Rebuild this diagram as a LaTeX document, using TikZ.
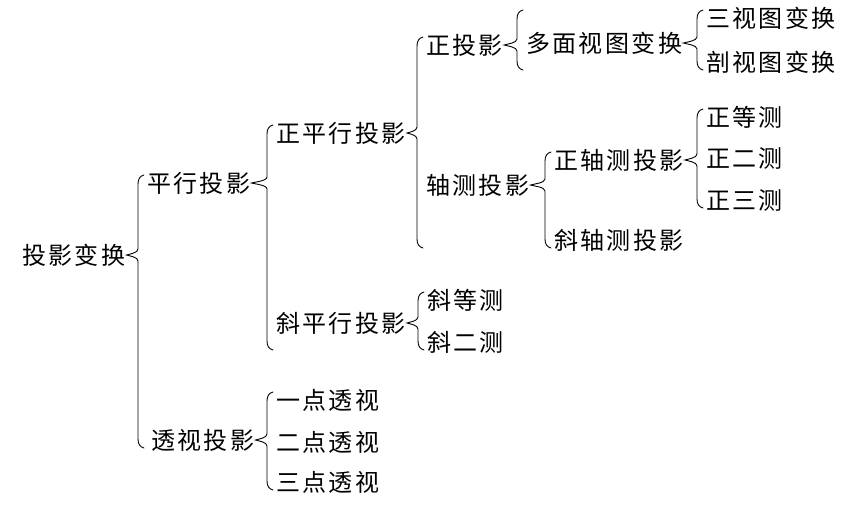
\documentclass[tikz,border=0pt]{standalone}
\usepackage{fontspec}
\usepackage{tikz}
\usetikzlibrary{calc}
\newfontfamily\cjk[LetterSpace=10]{Noto Sans CJK SC}

\begin{document}
\begin{tikzpicture}[x=1pt,y=1pt,
  lbl/.style={font=\cjk\fontsize{24}{28}\selectfont,inner sep=0pt,anchor=west},
  fork/.style={line width=.9pt,line cap=round}]
\useasboundingbox (0,0) rectangle (856,-515);
\foreach \nd/\txt/\x/\y in {root/投影变换/22/255, par/平行投影/147/183, persp/透视投影/151/440,
  orth/正平行投影/276/133, obl/斜平行投影/276/323, zheng/正投影/426/45, axo/轴测投影/426/185,
  multi/多面视图变换/526/43, three/三视图变换/706/18, sect/剖视图变换/706/62,
  oaxo/正轴测投影/554/160, saxo/斜轴测投影/554/240, iso/正等测/706/117, di/正二测/706/158,
  tri/正三测/706/200, siso/斜等测/427/300, sdi/斜二测/427/342,
  p1/一点透视/276/400, p2/二点透视/276/442, p3/三点透视/276/482}
  \node[lbl] (\nd) at (\x,-\y) {\txt};
% braces: parent / child giving x / top child / bottom child
\foreach \nd/\xr/\tr/\br in {root/par/par/persp, par/orth/orth/sdi, persp/p1/p1/p3,
  orth/zheng/zheng/saxo, obl/siso/siso/sdi, zheng/multi/three/sect, multi/three/three/sect,
  axo/oaxo/oaxo/saxo, oaxo/iso/iso/tri}
  \draw[fork] let \p1=(\nd.east), \p2=(\xr.west), \p3=(\tr.west), \p4=(\br.west) in
    (\x2-3pt,\y3+8pt) .. controls (\x2-7pt,\y3+7pt) and (\x2-9pt,\y3+4pt) .. (\x2-9pt,\y3-1pt)
    -- (\x2-9pt,\y1+6pt) .. controls (\x2-9pt,\y1+2pt) and (\x1+4pt,\y1+1pt) .. (\x1+1pt,\y1)
    .. controls (\x1+4pt,\y1-1pt) and (\x2-9pt,\y1-2pt) .. (\x2-9pt,\y1-6pt)
    -- (\x2-9pt,\y4+1pt) .. controls (\x2-9pt,\y4-4pt) and (\x2-7pt,\y4-7pt) .. (\x2-3pt,\y4-8pt);
\end{tikzpicture}
\end{document}
